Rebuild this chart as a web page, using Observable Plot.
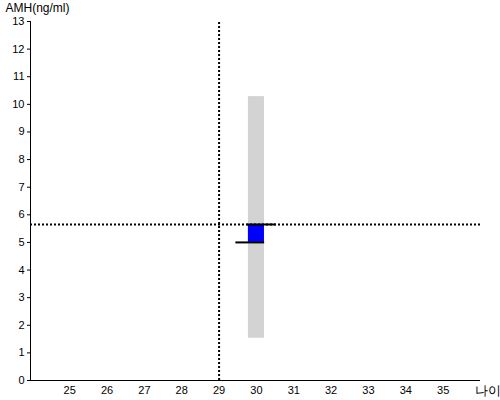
<!DOCTYPE html>
<html><head><meta charset="utf-8">
<script src="https://cdn.jsdelivr.net/npm/d3@7"></script>
<script src="https://cdn.jsdelivr.net/npm/@observablehq/plot@0.6"></script>
<style>body{margin:0;background:#fff;font-family:"Liberation Sans",Arial,sans-serif}</style>
</head><body><div id="chart"></div>
<script>
const xTicks = [25,26,27,28,29,30,31,32,33,34,35];
const yTicks = [0,1,2,3,4,5,6,7,8,9,10,11,12,13];
const ages = [30];
const rangeLow = [1.53];
const rangeHigh = [10.28];
const boxLow = [5.0];
const boxHigh = [5.65];
const refAge = [29];
const refAMH = [5.65];
const topLineX1 = [29.75], topLineX2 = [30.53], topLineY = [5.65];
const botLineX1 = [29.45], botLineX2 = [30.22], botLineY = [5.0];
const xLabel = "나이";
const yLabel = "AMH(ng/ml)";

const hw = 0.215;
const bars = ages.map((a,i)=>({x1:a-hw,x2:a+hw,lo:rangeLow[i],hi:rangeHigh[i],blo:boxLow[i],bhi:boxHigh[i]}));
const segs = [
  {x1:topLineX1[0],x2:topLineX2[0],y:topLineY[0]},
  {x1:botLineX1[0],x2:botLineX2[0],y:botLineY[0]}
];

const chart = Plot.plot({
  width: 500, height: 400,
  marginLeft: 30, marginRight: 20, marginTop: 21, marginBottom: 20,
  style: {fontFamily: '"Liberation Sans",Arial,sans-serif', fontSize: "11px", color:"#000", background:"#fff"},
  x: {domain: [23.95, 36], ticks: xTicks, tickSize: 0, label: null},
  y: {domain: [0, 13], ticks: yTicks, tickSize: 3, label: null},
  marks: [
    Plot.rect(bars, {x1:"x1", x2:"x2", y1:"lo", y2:"hi", fill:"#d3d3d3"}),
    Plot.rect(bars, {x1:"x1", x2:"x2", y1:"blo", y2:"bhi", fill:"#0000ff"}),
    Plot.ruleX(refAge, {x: d=>d, y1: 0, y2: 13, stroke:"#000", strokeWidth:2, strokeDasharray:"2,2"}),
    Plot.ruleY(refAMH, {y: d=>d, x1: 23.95, x2: 36, stroke:"#000", strokeWidth:2, strokeDasharray:"2,2"}),
    Plot.ruleY(segs, {y:"y", x1:"x1", x2:"x2", stroke:"#000", strokeWidth:2}),
    Plot.axisX({ticks: xTicks, tickSize: 0, tickPadding: 6, label: null, fontSize: 11}),
    Plot.axisY({ticks: yTicks, tickSize: 3, tickPadding: 3, label: null, fontSize: 11}),
    Plot.ruleY([0], {x1: 23.95, x2: 36, stroke:"#000", strokeWidth:1}),
    Plot.ruleX([23.95], {y1: 0, y2: 13, stroke:"#000", strokeWidth:1}),
    Plot.text([yLabel], {text: d=>d, frameAnchor:"top-left", dx:-25, dy:-10, lineAnchor:"bottom", textAnchor:"start", fontSize:12}),
    Plot.text([xLabel], {text: d=>d, frameAnchor:"bottom-right", dx:-6, dy:14, textAnchor:"start", fontSize:13})
  ]
});
document.getElementById("chart").appendChild(chart);
</script></body></html>
